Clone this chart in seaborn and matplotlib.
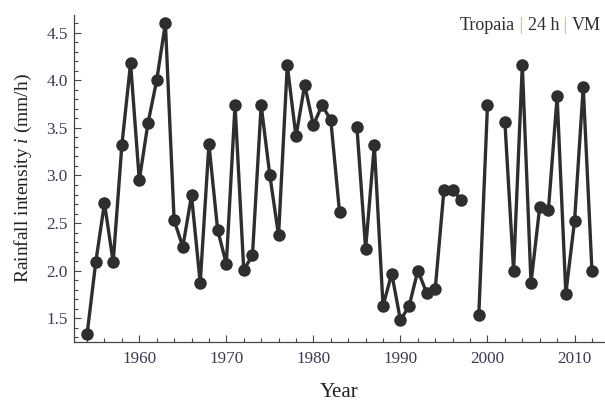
import matplotlib
matplotlib.use("Agg")
import matplotlib.pyplot as plt
import seaborn as sns
import pandas as pd
import numpy as np
from matplotlib.ticker import MultipleLocator, FormatStrFormatter

# annual maximum rainfall intensity, Tropaia station (gaps in 1984, 1998, 2001)
years = list(range(1954, 1984)) + list(range(1985, 1998)) + [1999, 2000] + list(range(2002, 2013))
intensity = [1.33, 2.09, 2.71, 2.09, 3.32, 4.18, 2.95, 3.55, 4.00, 4.60,
             2.53, 2.25, 2.79, 1.87, 3.33, 2.43, 2.07, 3.74, 2.01, 2.16,
             3.74, 3.00, 2.37, 4.16, 3.41, 3.95, 3.53, 3.74, 3.58, 2.62,
             3.51, 2.23, 3.32, 1.63, 1.97, 1.48, 1.63, 2.00, 1.77, 1.81,
             2.85, 2.85, 2.74,
             1.53, 3.74,
             3.56, 2.00, 4.16, 1.87, 2.67, 2.64, 3.83, 1.76, 2.52, 3.93, 2.00]

df = pd.DataFrame({"year": years, "i": intensity})
# break the line where a year is missing
df["segment"] = (df["year"].diff() > 1).cumsum()

sns.set_theme(style="ticks")
plt.rcParams["font.family"] = ["Liberation Serif", "DejaVu Serif"]
plt.rcParams["mathtext.fontset"] = "custom"
plt.rcParams["mathtext.rm"] = "Liberation Serif"
plt.rcParams["mathtext.it"] = "Liberation Serif:italic"

dark = "#2e2e2e"
fig = plt.figure(figsize=(6.05, 4.03), dpi=100)
ax = fig.add_axes([74 / 605, 1 - 341.7 / 403, (605 - 74) / 605, (341.7 - 15) / 403])

sns.lineplot(data=df, x="year", y="i", units="segment", estimator=None,
             color=dark, lw=2.4, marker="o", ms=9, mec=dark, mew=0, ax=ax)

ax.set_xlim(1952.5, 2013.5)
ax.set_ylim(1.254, 4.686)
ax.xaxis.set_major_locator(MultipleLocator(10))
ax.xaxis.set_minor_locator(MultipleLocator(2))
ax.yaxis.set_major_locator(MultipleLocator(0.5))
ax.yaxis.set_minor_locator(MultipleLocator(0.1))
ax.yaxis.set_major_formatter(FormatStrFormatter("%.1f"))

sns.despine(ax=ax)
for s in ["left", "bottom"]:
    ax.spines[s].set_color("#444444")
    ax.spines[s].set_linewidth(0.9)
ax.tick_params(which="both", direction="in", color="#444444", width=0.8,
               labelsize=12.3, labelcolor="#3a3a52")
ax.tick_params(axis="x", pad=7)
ax.tick_params(axis="y", pad=4.5)
ax.tick_params(which="major", length=5)
ax.tick_params(which="minor", length=2.8)

ax.set_xlabel("Year", fontsize=15, color="#222222", labelpad=11.5)
ax.set_ylabel("Rainfall intensity $i$ (mm/h)", fontsize=14, color="#222222", labelpad=9)

# station label in the top right corner, with light separators
pieces = [("VM", dark), (" | ", "#d9a878"), ("24 h", dark), (" | ", "#d9a878"), ("Tropaia", dark)]
fig.canvas.draw()
renderer = fig.canvas.get_renderer()
x_right = 601 / 605
for txt, col in pieces:
    t = fig.text(x_right, 1 - 30 / 403, txt, ha="right", va="baseline",
                 fontsize=13, color=col)
    bb = t.get_window_extent(renderer)
    x_right -= bb.width / 605

fig.savefig("out.png", dpi=100)
